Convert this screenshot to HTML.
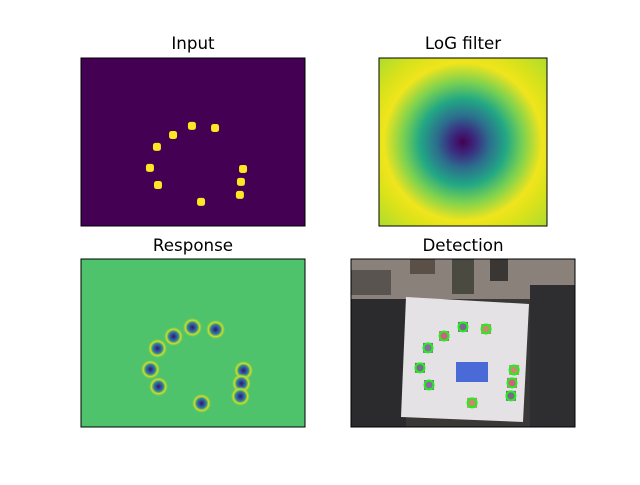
<!DOCTYPE html>
<html><head><meta charset="utf-8"><style>
body{margin:0;background:#fff}
svg text{font-family:"DejaVu Sans","Liberation Sans",sans-serif;font-size:16.7px;fill:#000}
</style></head><body>
<svg id="fig" width="640" height="480" viewBox="0 0 640 480" xmlns="http://www.w3.org/2000/svg">
<defs>
<radialGradient id="logg" cx="0.5" cy="0.5" r="0.5">
<stop offset="0" stop-color="#440154"/>
<stop offset="0.1" stop-color="#3b2a7e"/>
<stop offset="0.22" stop-color="#2c6e8e"/>
<stop offset="0.36" stop-color="#22a884"/>
<stop offset="0.5" stop-color="#7ad151"/>
<stop offset="0.66" stop-color="#f0e51c"/>
<stop offset="0.78" stop-color="#dae21a"/>
<stop offset="1" stop-color="#acdc30"/>
</radialGradient>
<radialGradient id="blobg">
<stop offset="0" stop-color="#2a1a6a"/>
<stop offset="0.3" stop-color="#3b4fa0"/>
<stop offset="0.5" stop-color="#2a8f8c"/>
<stop offset="0.72" stop-color="#d8e020"/>
<stop offset="1" stop-color="#4ec36b" stop-opacity="0"/>
</radialGradient>
<clipPath id="logclip"><rect x="379" y="58" width="168" height="168"/></clipPath>
</defs>
<text x="193" y="49" text-anchor="middle">Input</text>
<text x="463" y="49" text-anchor="middle">LoG filter</text>
<text x="193" y="251" text-anchor="middle">Response</text>
<text x="463" y="251" text-anchor="middle">Detection</text>

<g>
<rect x="81" y="58" width="224" height="168" fill="#440154"/>
<g id="inputBlobs"></g>
<rect x="81" y="58" width="224" height="168" fill="none" stroke="#000" stroke-width="1"/>
</g>
<g>
<rect x="379" y="58" width="168" height="168" fill="#acdc30"/>
<circle cx="463" cy="142" r="120" fill="url(#logg)" clip-path="url(#logclip)"/>
<rect x="379" y="58" width="168" height="168" fill="none" stroke="#000"/>
</g>
<g>
<rect x="81" y="259" width="224" height="168" fill="#4ec36b"/>
<g id="respBlobs"></g>
<rect x="81" y="259" width="224" height="168" fill="none" stroke="#000"/>
</g>
<g>
<rect x="351" y="259" width="224" height="168" fill="#3a3836"/>
<rect x="351" y="259" width="224" height="40" fill="#8a827a"/>
<rect x="351" y="270" width="40" height="25" fill="#5a5450"/>
<rect x="351" y="299" width="55" height="128" fill="#2b2b2d"/>
<rect x="530" y="285" width="45" height="142" fill="#2e2e30"/>
<rect x="452" y="259" width="22" height="35" fill="#4a4a40"/>
<rect x="410" y="259" width="25" height="15" fill="#5a5048"/>
<rect x="490" y="259" width="18" height="22" fill="#3a3634"/>
<polygon points="406,297 529,304 523,422 401,417" fill="#e4e2e4"/>
<rect x="456" y="362" width="32" height="20" fill="#4a6ad8"/>
<g id="detCircles"></g>
<rect x="351" y="259" width="224" height="168" fill="none" stroke="#000"/>
</g>
</svg>
<script>
// blob centers in image data units (640 x 480 image)
const blobX = [317,383,263,217,197,463,457,220,454,343];
const blobY = [194,200,220,254,314,317,354,363,391,411];
// detection circle centers (image data units)
const detX = [320,386,266,220,197,466,460,223,457,346];
const detY = [194,200,220,254,311,317,354,360,391,411];

function sx(v,x0){return x0+v*224/640;}
function sy(v,y0){return y0+v*168/480;}
const NS="http://www.w3.org/2000/svg";
const gi=document.getElementById('inputBlobs');
const gr=document.getElementById('respBlobs');
const gd=document.getElementById('detCircles');
for(let i=0;i<blobX.length;i++){
  const c=document.createElementNS(NS,'rect');
  c.setAttribute('x',sx(blobX[i],81)-4);c.setAttribute('y',sy(blobY[i],58)-4);
  c.setAttribute('width',8);c.setAttribute('height',8);c.setAttribute('rx',2.5);
  c.setAttribute('fill','#fde725');
  
  
  gi.appendChild(c);
  const r=document.createElementNS(NS,'circle');
  r.setAttribute('cx',sx(blobX[i],81)+0.5);r.setAttribute('cy',sy(blobY[i],259)+0.5);
  r.setAttribute('r',10);r.setAttribute('fill','url(#blobg)');
  
  
  gr.appendChild(r);
}
for(let i=0;i<detX.length;i++){
  const b=document.createElementNS(NS,'rect');
  b.setAttribute('x',sx(detX[i],351)-5);b.setAttribute('y',sy(detY[i],259)-5);
  b.setAttribute('width',10);b.setAttribute('height',10);
  b.setAttribute('fill',['#7a6a8a','#c98a6a','#d06080','#8a6aa0'][i%4]);
  
  
  gd.appendChild(b);
  const c=document.createElementNS(NS,'circle');
  c.setAttribute('cx',sx(detX[i],351));c.setAttribute('cy',sy(detY[i],259));
  c.setAttribute('r',4.5);c.setAttribute('fill','none');
  c.setAttribute('stroke','#22ee22');c.setAttribute('stroke-width',2);
  
  
  gd.appendChild(c);
}
</script>
</body></html>
